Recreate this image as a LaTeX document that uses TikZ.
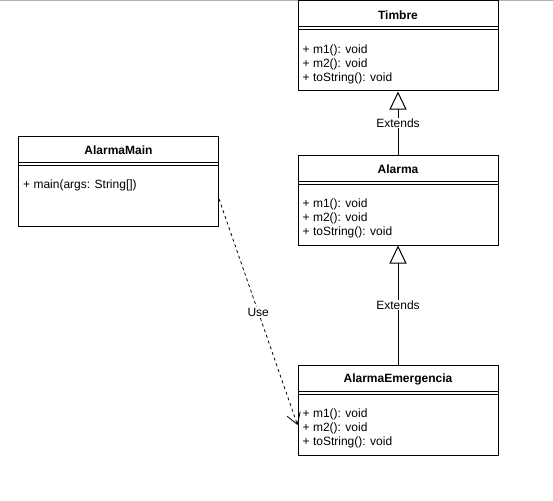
\documentclass[tikz,border=0pt]{standalone}
\usepackage{fontspec}
\setmainfont{Liberation Sans}
\usetikzlibrary{arrows.meta}

\tikzset{
    classbox/.style={draw, line width=1pt, minimum width=200pt, minimum height=90pt, inner sep=0pt},
    classname/.style={font=\fontsize{12}{14}\selectfont\bfseries, inner sep=0pt},
    members/.style={font=\fontsize{12}{14}\selectfont, align=left, anchor=north west, inner sep=0pt},
    edgelabel/.style={font=\fontsize{12}{14}\selectfont, fill=white, inner sep=1pt},
    extends/.style={line width=1pt, -{Triangle[open, length=18pt, width=17pt, fill=white]}},
    uses/.style={line width=0.8pt, dash pattern=on 3pt off 3pt, -{Straight Barb[length=11pt, width=14pt]}}
}

\begin{document}
\begin{tikzpicture}[x=1pt, y=-1pt]
    \useasboundingbox (0,0) rectangle (553,500);
    \draw[gray!60, line width=1pt] (0,0.5) -- (553,0.5);

    \node[classbox] (timbre) at (398,46) {};
    \node[classbox] (alarma) at (398,200) {};
    \node[classbox] (emergencia) at (398,410) {};
    \node[classbox] (main) at (118.5,181) {};

    \draw[line width=1pt] ([yshift=-26.5pt]timbre.north west) -- ([yshift=-26.5pt]timbre.north east)
        ([yshift=-29.5pt]timbre.north west) -- ([yshift=-29.5pt]timbre.north east);
    \draw[line width=1pt] ([yshift=-26.5pt]alarma.north west) -- ([yshift=-26.5pt]alarma.north east)
        ([yshift=-29.5pt]alarma.north west) -- ([yshift=-29.5pt]alarma.north east);
    \draw[line width=1pt] ([yshift=-26.5pt]emergencia.north west) -- ([yshift=-26.5pt]emergencia.north east)
        ([yshift=-29.5pt]emergencia.north west) -- ([yshift=-29.5pt]emergencia.north east);
    \draw[line width=1pt] ([yshift=-26.5pt]main.north west) -- ([yshift=-26.5pt]main.north east)
        ([yshift=-29.5pt]main.north west) -- ([yshift=-29.5pt]main.north east);

    \node[classname] (timbre-name) at ([yshift=-15pt]timbre.north) {Timbre};
    \node[classname] (alarma-name) at ([yshift=-15pt]alarma.north) {Alarma};
    \node[classname] (emergencia-name) at ([yshift=-15pt]emergencia.north) {AlarmaEmergencia};
    \node[classname] (main-name) at ([yshift=-15pt]main.north) {AlarmaMain};

    \node[members] (timbre-ops) at ([xshift=5pt, yshift=-44pt]timbre.north west) {+ m1(): void\\+ m2(): void\\+ toString(): void};
    \node[members] (alarma-ops) at ([xshift=5pt, yshift=-44pt]alarma.north west) {+ m1(): void\\+ m2(): void\\+ toString(): void};
    \node[members] (emergencia-ops) at ([xshift=5pt, yshift=-44pt]emergencia.north west) {+ m1(): void\\+ m2(): void\\+ toString(): void};
    \node[members] (main-ops) at ([xshift=5pt, yshift=-44pt]main.north west) {+ main(args: String[])};

    \draw[extends] (alarma) -- node[edgelabel] {Extends} (timbre);
    \draw[extends] (emergencia) -- node[edgelabel] {Extends} (alarma);
    \draw[uses] ([yshift=-18pt]main.east) -- node[edgelabel] {Use} ([yshift=-15pt]emergencia.west);
\end{tikzpicture}
\end{document}
